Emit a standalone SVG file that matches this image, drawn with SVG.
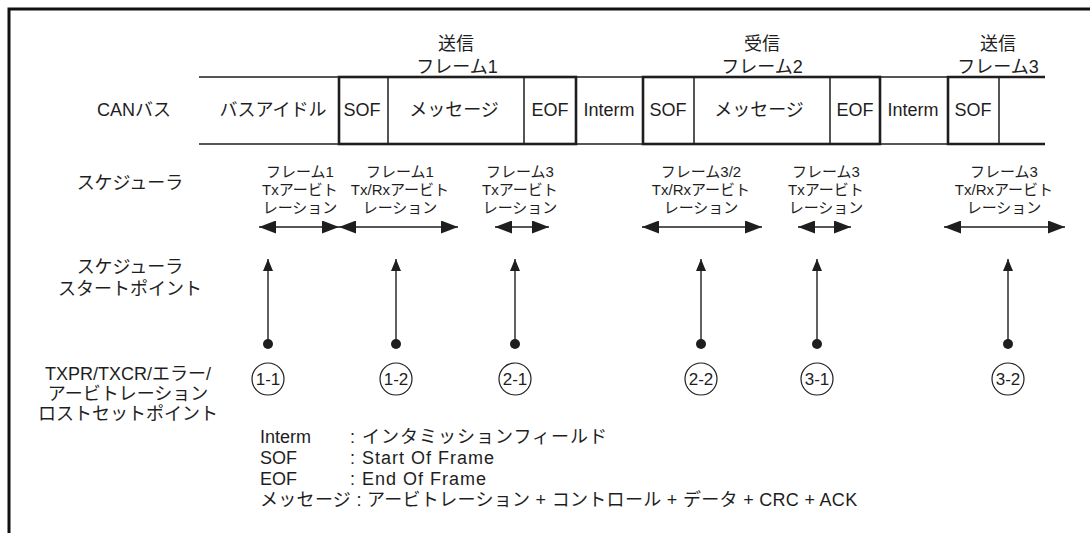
<svg xmlns="http://www.w3.org/2000/svg" width="1090" height="533" viewBox="0 0 1090 533">
<style>
text{font-family:"Liberation Sans","Noto Sans CJK JP",sans-serif;fill:#1e1e1e;}
.t18{font-size:18px;}
.t15{font-size:15px;}
.c{text-anchor:middle;}
.thin{fill:none;stroke:#1e1e1e;stroke-width:1.5;}
.thick{fill:none;stroke:#1e1e1e;stroke-width:2.6;}
.arr{fill:none;stroke:#1e1e1e;stroke-width:1.4;}
.pt{fill:none;stroke:#1e1e1e;stroke-width:1.2;}
.dot{fill:#1e1e1e;}
</style>
<defs>
<marker id="ah" viewBox="0 0 17 13" refX="17" refY="6.5" markerWidth="17" markerHeight="13" markerUnits="userSpaceOnUse" orient="auto-start-reverse"><path d="M0,0 L17,6.5 L0,13 z" fill="#1e1e1e"/></marker>
<marker id="uh" viewBox="0 0 12 10" refX="12" refY="5" markerWidth="12" markerHeight="10" markerUnits="userSpaceOnUse" orient="auto"><path d="M0,0 L12,5 L0,10 z" fill="#1e1e1e"/></marker>
</defs>
<rect width="1090" height="533" fill="#fff"/>
<path d="M9,533 V9 H1090" fill="none" stroke="#111" stroke-width="3"/>

<g id="row-labels" class="t18">
<text class="c" x="134" y="116">CANバス</text>
<text class="c" x="130" y="189">スケジューラ</text>
<text class="c" x="130" y="273">スケジューラ</text>
<text class="c" x="130" y="295">スタートポイント</text>
<text class="c" x="128" y="380">TXPR/TXCR/エラー/</text>
<text class="c" x="128" y="400">アービトレーション</text>
<text class="c" x="128" y="420">ロストセットポイント</text>
</g>

<g id="frame-labels" class="t18">
<text class="c" x="456" y="50">送信</text>
<text class="c" x="457" y="73">フレーム1</text>
<text class="c" x="762" y="50">受信</text>
<text class="c" x="762" y="73">フレーム2</text>
<text class="c" x="998" y="50">送信</text>
<text class="c" x="998" y="73">フレーム3</text>
</g>

<g id="can-bus">
<path class="thin" d="M199,77 H1045 M199,144 H1045"/>
<rect class="thick" x="339" y="77" width="237" height="67"/>
<rect class="thick" x="643" y="77" width="237" height="67"/>
<path class="thick" d="M1045,77 H948 V144 H1045"/>
<path class="thin" d="M388,77 V144 M524,77 V144 M694,77 V144 M830,77 V144 M999,77 V144"/>
<g class="t18">
<text class="c" x="273" y="116">バスアイドル</text>
<text class="c" x="362" y="116">SOF</text>
<text class="c" x="454" y="116">メッセージ</text>
<text class="c" x="550" y="116">EOF</text>
<text class="c" x="609" y="116">Interm</text>
<text class="c" x="668" y="116">SOF</text>
<text class="c" x="759" y="116">メッセージ</text>
<text class="c" x="855" y="116">EOF</text>
<text class="c" x="913" y="116">Interm</text>
<text class="c" x="973" y="116">SOF</text>
</g>
</g>

<g id="scheduler-labels" class="t15">
<text class="c" x="300" y="177">フレーム1</text>
<text class="c" x="300" y="195">Txアービト</text>
<text class="c" x="300" y="213">レーション</text>
<text class="c" x="400" y="177">フレーム1</text>
<text class="c" x="400" y="195">Tx/Rxアービト</text>
<text class="c" x="400" y="213">レーション</text>
<text class="c" x="520" y="177">フレーム3</text>
<text class="c" x="520" y="195">Txアービト</text>
<text class="c" x="520" y="213">レーション</text>
<text class="c" x="701" y="177">フレーム3/2</text>
<text class="c" x="701" y="195">Tx/Rxアービト</text>
<text class="c" x="701" y="213">レーション</text>
<text class="c" x="826" y="177">フレーム3</text>
<text class="c" x="826" y="195">Txアービト</text>
<text class="c" x="826" y="213">レーション</text>
<text class="c" x="1004" y="177">フレーム3</text>
<text class="c" x="1004" y="195">Tx/Rxアービト</text>
<text class="c" x="1004" y="213">レーション</text>
</g>

<g id="connectors">
<line class="arr" x1="259" y1="227" x2="339" y2="227" marker-start="url(#ah)" marker-end="url(#ah)"/>
<line class="arr" x1="339" y1="227" x2="458" y2="227" marker-start="url(#ah)" marker-end="url(#ah)"/>
<line class="arr" x1="495" y1="227" x2="549" y2="227" marker-start="url(#ah)" marker-end="url(#ah)"/>
<line class="arr" x1="642" y1="227" x2="762" y2="227" marker-start="url(#ah)" marker-end="url(#ah)"/>
<line class="arr" x1="798" y1="227" x2="851" y2="227" marker-start="url(#ah)" marker-end="url(#ah)"/>
<line class="arr" x1="944" y1="227" x2="1065" y2="227" marker-start="url(#ah)" marker-end="url(#ah)"/>
<line class="arr" x1="268" y1="344" x2="268" y2="259" marker-end="url(#uh)"/>
<line class="arr" x1="396" y1="344" x2="396" y2="259" marker-end="url(#uh)"/>
<line class="arr" x1="515" y1="344" x2="515" y2="259" marker-end="url(#uh)"/>
<line class="arr" x1="701" y1="344" x2="701" y2="259" marker-end="url(#uh)"/>
<line class="arr" x1="817" y1="344" x2="817" y2="259" marker-end="url(#uh)"/>
<line class="arr" x1="1008" y1="344" x2="1008" y2="259" marker-end="url(#uh)"/>
<circle class="dot" cx="268" cy="344" r="5"/>
<circle class="dot" cx="396" cy="344" r="5"/>
<circle class="dot" cx="515" cy="344" r="5"/>
<circle class="dot" cx="701" cy="344" r="5"/>
<circle class="dot" cx="817" cy="344" r="5"/>
<circle class="dot" cx="1008" cy="344" r="5"/>
</g>

<g id="set-points" font-size="17">
<g id="p11"><circle class="pt" cx="268" cy="379" r="16"/><text class="c" x="268" y="385">1-1</text></g>
<g id="p12"><circle class="pt" cx="396" cy="379" r="16"/><text class="c" x="396" y="385">1-2</text></g>
<g id="p21"><circle class="pt" cx="515" cy="379" r="16"/><text class="c" x="515" y="385">2-1</text></g>
<g id="p22"><circle class="pt" cx="701" cy="379" r="16"/><text class="c" x="701" y="385">2-2</text></g>
<g id="p31"><circle class="pt" cx="817" cy="379" r="16"/><text class="c" x="817" y="385">3-1</text></g>
<g id="p32"><circle class="pt" cx="1008" cy="379" r="16"/><text class="c" x="1008" y="385">3-2</text></g>
</g>

<g id="legend" class="t18">
<text x="260" y="443">Interm</text><text x="350" y="443" letter-spacing="1">: インタミッションフィールド</text>
<text x="260" y="464">SOF</text><text x="350" y="464" letter-spacing="1">: Start Of Frame</text>
<text x="260" y="485">EOF</text><text x="350" y="485" letter-spacing="1">: End Of Frame</text>
<text x="260" y="506" letter-spacing="0.3">メッセージ : アービトレーション + コントロール + データ + CRC + ACK</text>
</g>
</svg>
